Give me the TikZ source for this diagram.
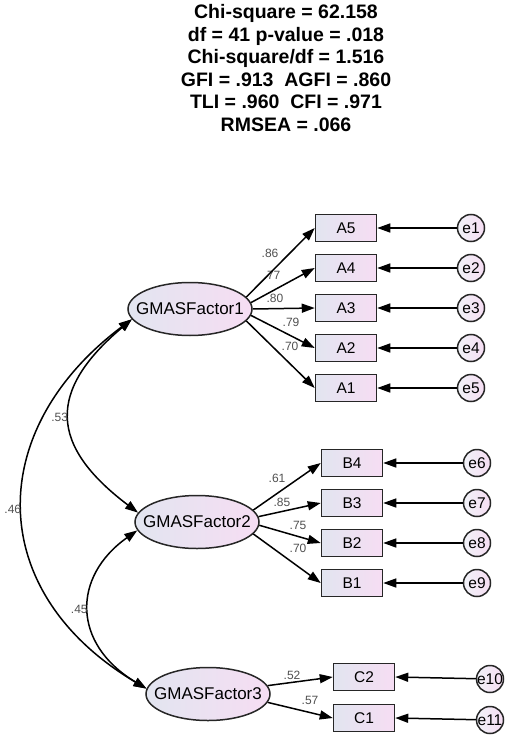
\documentclass[tikz,border=0pt]{standalone}
\usepackage{fontspec}
\setmainfont{Liberation Sans}
\usetikzlibrary{shapes.geometric,arrows.meta}
\definecolor{fillleft}{RGB}{226,229,240}
\definecolor{fillright}{RGB}{246,221,243}
\definecolor{labelgray}{RGB}{80,80,80}
\tikzset{
  factor/.style={ellipse,draw=black!85,line width=1.5pt,left color=fillleft,right color=fillright,
    minimum width=124pt,minimum height=53pt,inner xsep=-10pt,inner ysep=0pt,font=\fontsize{17}{19}\selectfont},
  item/.style={rectangle,draw=black!85,line width=1.5pt,left color=fillleft,right color=fillright,
    minimum width=61pt,minimum height=27pt,inner sep=0pt,font=\fontsize{15.5}{17}\selectfont},
  err/.style={circle,draw=black!85,line width=1.5pt,left color=fillleft!50!white,right color=fillright,
    minimum size=27pt,inner sep=-5pt,font=\fontsize{15.5}{17}\selectfont},
  load/.style={text=labelgray,inner sep=0pt,font=\fontsize{12}{13}\selectfont},
  fitstats/.style={align=center,inner sep=0pt,font=\fontsize{19.5}{22.5}\selectfont\bfseries},
  loading/.style={line width=1.5pt,-{Triangle[length=13pt,width=9pt]}},
  covar/.style={line width=1.5pt,{Triangle[length=13pt,width=9pt]}-{Triangle[length=13pt,width=9pt]}}
}
\begin{document}
\begin{tikzpicture}[x=1pt,y=-1pt]
      \useasboundingbox (0,0) rectangle (505,735);
      \node[fitstats] (stats) at (286,68) {Chi-square = 62.158\\df = 41 p-value = .018\\Chi-square/df = 1.516\\
        GFI = .913\ \ AGFI = .860\\TLI = .960\ \ CFI = .971\\RMSEA = .066};
      \draw
        (190,309) node[factor] (F1){GMASFactor1}
        (197,522) node[factor] (F2){GMASFactor2}
        (208,694) node[factor] (F3){GMASFactor3}
        (346,228) node[item] (A5){A5}
        (346,268) node[item] (A4){A4}
        (346,308) node[item] (A3){A3}
        (346,348) node[item] (A2){A2}
        (346,388) node[item] (A1){A1}
        (352,463) node[item] (B4){B4}
        (352,503) node[item] (B3){B3}
        (352,543) node[item] (B2){B2}
        (352,583) node[item] (B1){B1}
        (364,677) node[item] (C2){C2}
        (364,718) node[item] (C1){C1}
        (471,228) node[err] (e1){e1}
        (471,268) node[err] (e2){e2}
        (471,308) node[err] (e3){e3}
        (471,348) node[err] (e4){e4}
        (471,388) node[err] (e5){e5}
        (477,463) node[err] (e6){e6}
        (477,503) node[err] (e7){e7}
        (477,543) node[err] (e8){e8}
        (477,583) node[err] (e9){e9}
        (490,679) node[err] (e10){e10}
        (490,720) node[err] (e11){e11};
      \draw
        (270,253) node[load] (lA5){.86}
        (272,275) node[load] (lA4){.77}
        (275,298) node[load] (lA3){.80}
        (291,322) node[load] (lA2){.79}
        (290,346) node[load] (lA1){.70}
        (277,478) node[load] (lB4){.61}
        (282,502) node[load] (lB3){.85}
        (298,525) node[load] (lB2){.75}
        (298,548) node[load] (lB1){.70}
        (292,675) node[load] (lC2){.52}
        (310,700) node[load] (lC1){.57};
      \begin{scope}[loading]
        \draw (F1.12) to (A5.west);
        \draw (F1.6) to (A4.west);
        \draw (F1.0) to (A3.west);
        \draw (F1.-6) to (A2.west);
        \draw (F1.-12) to (A1.west);
        \draw (F2.12) to (B4.west);
        \draw (F2.5) to (B3.west);
        \draw (F2.-3) to (B2.west);
        \draw (F2.-12) to (B1.west);
        \draw (F3.8) to (C2.west);
        \draw (F3.-8) to (C1.west);
        \draw (e1) to (A5.east);
        \draw (e2) to (A4.east);
        \draw (e3) to (A3.east);
        \draw (e4) to (A2.east);
        \draw (e5) to (A1.east);
        \draw (e6) to (B4.east);
        \draw (e7) to (B3.east);
        \draw (e8) to (B2.east);
        \draw (e9) to (B1.east);
        \draw (e10) to (C2.east);
        \draw (e11) to (C1.east);
      \end{scope}
      \begin{scope}[covar]
        \draw (F1.190) .. controls +(-84,71) and +(-90,-68) .. node[load,pos=.5,anchor=east,inner sep=1pt] (c12){.53} (F2.171);
        \draw (F1.190) .. controls +(-148,111) and +(-162,-96) .. node[load,pos=.5,anchor=east,inner sep=1pt] (c13){.46} (F3.175);
        \draw (F2.188) .. controls +(-65,46) and +(-75,-45) .. node[load,pos=.5,anchor=east,inner sep=1pt] (c23){.45} (F3.175);
      \end{scope}
    \end{tikzpicture}
\end{document}
